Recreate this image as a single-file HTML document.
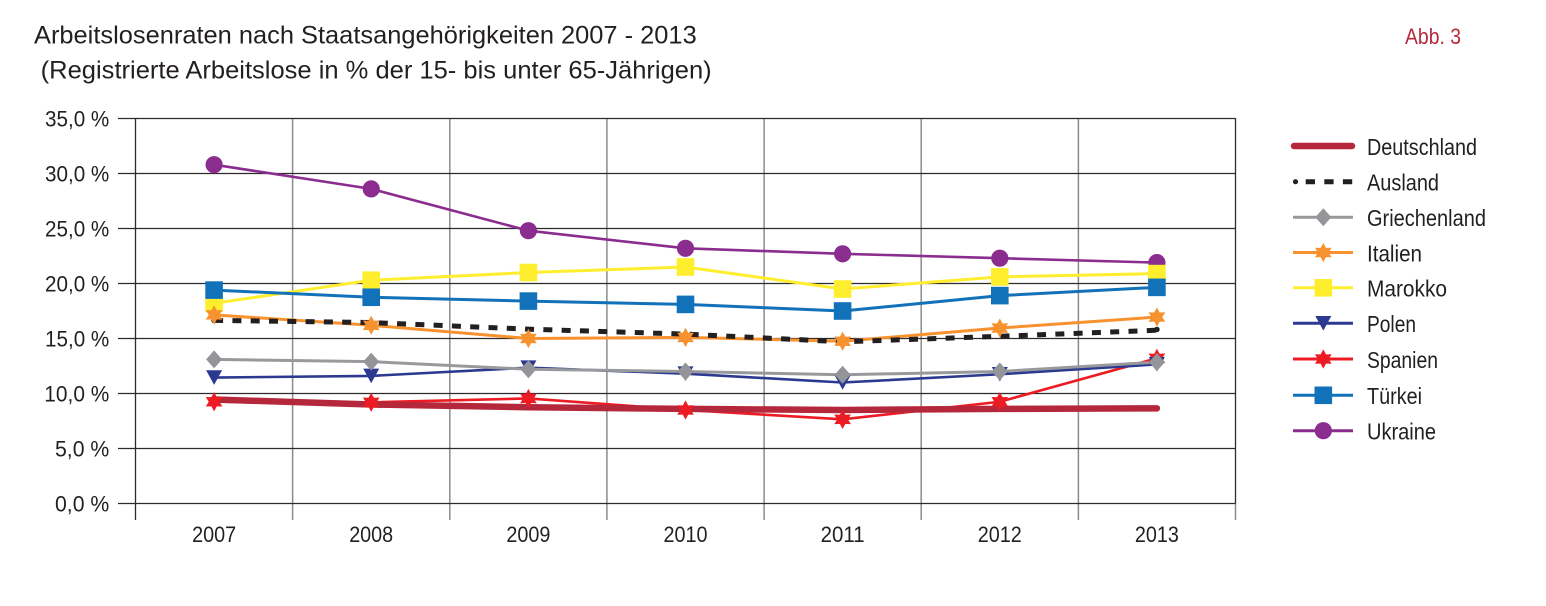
<!DOCTYPE html>
<html>
<head>
<meta charset="utf-8">
<style>
html,body{margin:0;padding:0;background:#fff;}
svg{display:block;}
text{font-family:"Liberation Sans",Arial,sans-serif;fill:#231f20;}
</style>
</head>
<body>
<svg width="1546" height="606" viewBox="0 0 1546 606" xmlns="http://www.w3.org/2000/svg">
<defs>
  <polygon id="star" points="0,-9.6 2.7,-4.6 8.3,-4.8 5.4,0 8.3,4.8 2.7,4.6 0,9.6 -2.7,4.6 -8.3,4.8 -5.4,0 -8.3,-4.8 -2.7,-4.6"/>
  <polygon id="tri" points="-8,-7.3 8,-7.3 0,7.3"/>
  <polygon id="dia" points="0,-9 8,0 0,9 -8,0"/>
  <rect id="sq" x="-8.8" y="-8.8" width="17.6" height="17.6"/>
  <circle id="cir" r="8.6"/>
</defs>
<rect width="1546" height="606" fill="#fff"/>

<!-- Titles -->
<text x="34" y="43.3" font-size="25" textLength="662.7" lengthAdjust="spacingAndGlyphs">Arbeitslosenraten nach Staatsangehörigkeiten 2007 - 2013</text>
<text x="40.7" y="78.3" font-size="25" textLength="671" lengthAdjust="spacingAndGlyphs">(Registrierte Arbeitslose in % der 15- bis unter 65-Jährigen)</text>
<text x="1405" y="44" font-size="22" textLength="56" lengthAdjust="spacingAndGlyphs" style="fill:#b52a3c">Abb. 3</text>

<!-- Vertical grid lines -->
<g stroke="#8c8c8c" stroke-width="1.5">
  <line x1="292.6" y1="118.5" x2="292.6" y2="520"/>
  <line x1="449.8" y1="118.5" x2="449.8" y2="520"/>
  <line x1="606.9" y1="118.5" x2="606.9" y2="520"/>
  <line x1="764.1" y1="118.5" x2="764.1" y2="520"/>
  <line x1="921.2" y1="118.5" x2="921.2" y2="520"/>
  <line x1="1078.4" y1="118.5" x2="1078.4" y2="520"/>
  <line x1="1235.5" y1="503.5" x2="1235.5" y2="520"/>
</g>
<!-- Horizontal grid lines -->
<g stroke="#2e2b2c" stroke-width="1.3">
  <line x1="118" y1="118.5" x2="1235.5" y2="118.5"/>
  <line x1="118" y1="173.5" x2="1235.5" y2="173.5"/>
  <line x1="118" y1="228.5" x2="1235.5" y2="228.5"/>
  <line x1="118" y1="283.5" x2="1235.5" y2="283.5"/>
  <line x1="118" y1="338.5" x2="1235.5" y2="338.5"/>
  <line x1="118" y1="393.5" x2="1235.5" y2="393.5"/>
  <line x1="118" y1="448.5" x2="1235.5" y2="448.5"/>
  <line x1="118" y1="503.5" x2="1235.5" y2="503.5"/>
  <line x1="135.5" y1="118" x2="135.5" y2="520"/>
  <line x1="1235.5" y1="118" x2="1235.5" y2="503.5"/>
</g>

<!-- Y labels -->
<g font-size="22">
  <text x="45" y="126.5" textLength="64.3" lengthAdjust="spacingAndGlyphs">35,0 %</text>
  <text x="45" y="181.5" textLength="64.3" lengthAdjust="spacingAndGlyphs">30,0 %</text>
  <text x="45" y="236.5" textLength="64.3" lengthAdjust="spacingAndGlyphs">25,0 %</text>
  <text x="45" y="291.5" textLength="64.3" lengthAdjust="spacingAndGlyphs">20,0 %</text>
  <text x="45" y="346.5" textLength="64.3" lengthAdjust="spacingAndGlyphs">15,0 %</text>
  <text x="44.3" y="401.5" textLength="65" lengthAdjust="spacingAndGlyphs">10,0 %</text>
  <text x="55" y="456.5" textLength="54.3" lengthAdjust="spacingAndGlyphs">5,0 %</text>
  <text x="55" y="511.5" textLength="54.3" lengthAdjust="spacingAndGlyphs">0,0 %</text>
</g>
<!-- X labels -->
<g font-size="22">
  <text x="192.1" y="542" textLength="44" lengthAdjust="spacingAndGlyphs">2007</text>
  <text x="349.2" y="542" textLength="44" lengthAdjust="spacingAndGlyphs">2008</text>
  <text x="506.4" y="542" textLength="44" lengthAdjust="spacingAndGlyphs">2009</text>
  <text x="663.5" y="542" textLength="44" lengthAdjust="spacingAndGlyphs">2010</text>
  <text x="820.6" y="542" textLength="44" lengthAdjust="spacingAndGlyphs">2011</text>
  <text x="977.8" y="542" textLength="44" lengthAdjust="spacingAndGlyphs">2012</text>
  <text x="1134.9" y="542" textLength="44" lengthAdjust="spacingAndGlyphs">2013</text>
</g>

<!-- Series lines -->
<g fill="none" stroke-linejoin="round">
  <polyline stroke="#8b2d8e" stroke-width="2.6" points="214.1,164.7 371.2,188.9 528.4,230.7 685.5,248.3 842.6,253.8 999.8,258.2 1156.9,262.6"/>
  <polyline stroke="#ffee2e" stroke-width="3" points="214.1,303.3 371.2,280.2 528.4,272.5 685.5,267.0 842.6,289.0 999.8,276.9 1156.9,273.6"/>
  <polyline stroke="#1272b9" stroke-width="3" points="214.1,290.1 371.2,297.25 528.4,301.1 685.5,304.4 842.6,311.0 999.8,295.6 1156.9,287.35"/>
  <polyline stroke="#ed1c24" stroke-width="2.6" points="214.1,401.75 371.2,402.3 528.4,398.45 685.5,410.0 842.6,419.35 999.8,401.75 1156.9,358.3"/>
  <polyline stroke="#2b3990" stroke-width="2.6" points="214.1,377.55 371.2,375.9 528.4,367.65 685.5,373.7 842.6,382.5 999.8,374.25 1156.9,364.35"/>
  <polyline stroke="#f7922f" stroke-width="3" points="214.1,314.85 371.2,325.3 528.4,338.5 685.5,337.4 842.6,341.25 999.8,328.05 1156.9,317.05"/>
  <polyline stroke="#98999c" stroke-width="3" points="214.1,359.4 371.2,361.6 528.4,369.3 685.5,371.5 842.6,374.8 999.8,371.5 1156.9,362.15"/>
  <polyline stroke="#231f20" stroke-width="5" stroke-dasharray="9 9.3" points="214.1,320.35 371.2,322.55 528.4,329.15 685.5,334.1 842.6,341.8 999.8,336.3 1156.9,330.25"/>
  <circle cx="1156.9" cy="329.5" r="2.8" fill="#231f20"/>
  <circle cx="214.1" cy="320.35" r="2.8" fill="#231f20"/>
  <polyline stroke="#b5283b" stroke-width="6.5" stroke-linecap="round" points="214.1,399.55 371.2,404.5 528.4,407.25 685.5,408.9 842.6,410.0 999.8,408.9 1156.9,408.35"/>
</g>

<!-- Markers -->
<g fill="#8b2d8e">
  <use href="#cir" x="214.1" y="164.7"/><use href="#cir" x="371.2" y="188.9"/><use href="#cir" x="528.4" y="230.7"/><use href="#cir" x="685.5" y="248.3"/><use href="#cir" x="842.6" y="253.8"/><use href="#cir" x="999.8" y="258.2"/><use href="#cir" x="1156.9" y="262.6"/>
</g>
<g fill="#ffee2e">
  <use href="#sq" x="214.1" y="303.3"/><use href="#sq" x="371.2" y="280.2"/><use href="#sq" x="528.4" y="272.5"/><use href="#sq" x="685.5" y="267.0"/><use href="#sq" x="842.6" y="289.0"/><use href="#sq" x="999.8" y="276.9"/><use href="#sq" x="1156.9" y="273.6"/>
</g>
<g fill="#1272b9">
  <use href="#sq" x="214.1" y="290.1"/><use href="#sq" x="371.2" y="297.25"/><use href="#sq" x="528.4" y="301.1"/><use href="#sq" x="685.5" y="304.4"/><use href="#sq" x="842.6" y="311.0"/><use href="#sq" x="999.8" y="295.6"/><use href="#sq" x="1156.9" y="287.35"/>
</g>
<g fill="#f7922f">
  <use href="#star" x="214.1" y="314.85"/><use href="#star" x="371.2" y="325.3"/><use href="#star" x="528.4" y="338.5"/><use href="#star" x="685.5" y="337.4"/><use href="#star" x="842.6" y="341.25"/><use href="#star" x="999.8" y="328.05"/><use href="#star" x="1156.9" y="317.05"/>
</g>
<g fill="#ed1c24">
  <use href="#star" x="214.1" y="401.75"/><use href="#star" x="371.2" y="402.3"/><use href="#star" x="528.4" y="398.45"/><use href="#star" x="685.5" y="410.0"/><use href="#star" x="842.6" y="419.35"/><use href="#star" x="999.8" y="401.75"/><use href="#star" x="1156.9" y="358.3"/>
</g>
<g fill="#2b3990">
  <use href="#tri" x="214.1" y="377.55"/><use href="#tri" x="371.2" y="375.9"/><use href="#tri" x="528.4" y="367.65"/><use href="#tri" x="685.5" y="373.7"/><use href="#tri" x="842.6" y="382.5"/><use href="#tri" x="999.8" y="374.25"/><use href="#tri" x="1156.9" y="364.35"/>
</g>
<g fill="#939598">
  <use href="#dia" x="214.1" y="359.4"/><use href="#dia" x="371.2" y="361.6"/><use href="#dia" x="528.4" y="369.3"/><use href="#dia" x="685.5" y="371.5"/><use href="#dia" x="842.6" y="374.8"/><use href="#dia" x="999.8" y="371.5"/><use href="#dia" x="1156.9" y="362.15"/>
</g>

<!-- Legend -->
<g>
  <line x1="1294" y1="146" x2="1352" y2="146" stroke="#b5283b" stroke-width="6.5" stroke-linecap="round"/>
  <circle cx="1295.5" cy="181.7" r="2.6" fill="#231f20"/>
  <line x1="1305.7" y1="181.7" x2="1353.3" y2="181.7" stroke="#231f20" stroke-width="5" stroke-dasharray="9.3 9.3"/>
  <line x1="1293" y1="217.3" x2="1353" y2="217.3" stroke="#98999c" stroke-width="3"/>
  <use href="#dia" x="1323.3" y="217.3" fill="#939598"/>
  <line x1="1293" y1="252.5" x2="1353" y2="252.5" stroke="#f7922f" stroke-width="3"/>
  <use href="#star" x="1323.3" y="252.5" fill="#f7922f"/>
  <line x1="1293" y1="287.8" x2="1353" y2="287.8" stroke="#ffee2e" stroke-width="3"/>
  <use href="#sq" x="1323.3" y="287.8" fill="#ffee2e"/>
  <line x1="1293" y1="323.3" x2="1353" y2="323.3" stroke="#2b3990" stroke-width="3"/>
  <use href="#tri" x="1323.3" y="323.3" fill="#2b3990"/>
  <line x1="1293" y1="359" x2="1353" y2="359" stroke="#ed1c24" stroke-width="3"/>
  <use href="#star" x="1323.3" y="359" fill="#ed1c24"/>
  <line x1="1293" y1="395.3" x2="1353" y2="395.3" stroke="#1272b9" stroke-width="3"/>
  <use href="#sq" x="1323.3" y="395.3" fill="#1272b9"/>
  <line x1="1293" y1="430.7" x2="1353" y2="430.7" stroke="#8b2d8e" stroke-width="3"/>
  <use href="#cir" x="1323.3" y="430.7" fill="#8b2d8e"/>
</g>
<g font-size="23">
  <text x="1367" y="155" textLength="110" lengthAdjust="spacingAndGlyphs">Deutschland</text>
  <text x="1367" y="190.5" textLength="72" lengthAdjust="spacingAndGlyphs">Ausland</text>
  <text x="1367" y="226.2" textLength="119" lengthAdjust="spacingAndGlyphs">Griechenland</text>
  <text x="1367" y="261.3" textLength="55" lengthAdjust="spacingAndGlyphs">Italien</text>
  <text x="1367" y="296.6" textLength="80" lengthAdjust="spacingAndGlyphs">Marokko</text>
  <text x="1367" y="332.2" textLength="49" lengthAdjust="spacingAndGlyphs">Polen</text>
  <text x="1367" y="367.9" textLength="71" lengthAdjust="spacingAndGlyphs">Spanien</text>
  <text x="1367" y="404.2" textLength="55" lengthAdjust="spacingAndGlyphs">Türkei</text>
  <text x="1367" y="439.6" textLength="69" lengthAdjust="spacingAndGlyphs">Ukraine</text>
</g>
</svg>
</body>
</html>
